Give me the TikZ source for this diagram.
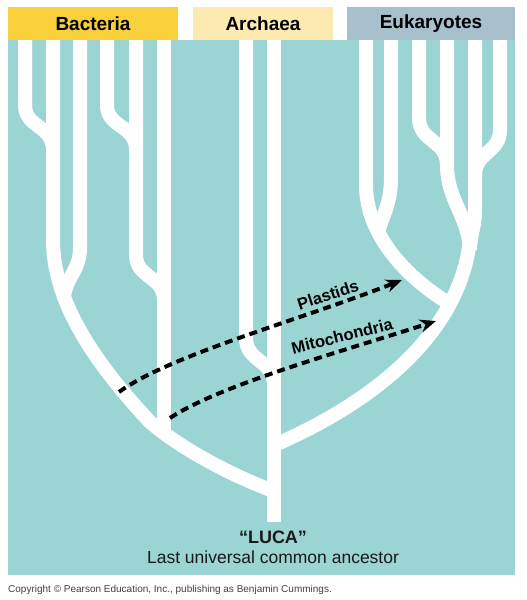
\documentclass[tikz,border=0pt]{standalone}
\usepackage{fontspec}
\setmainfont{Liberation Sans}
\usetikzlibrary{arrows.meta}
\definecolor{treeBg}{RGB}{155,213,211}
\definecolor{bactYellow}{RGB}{249,207,60}
\definecolor{archYellow}{RGB}{253,234,176}
\definecolor{eukGrey}{RGB}{168,191,204}

\begin{document}
\begin{tikzpicture}[x=1pt,y=-1pt,
                  domain/.style={minimum width=#1,minimum height=33pt,inner sep=0pt,font=\fontsize{19}{22}\selectfont\bfseries},
                  branch/.style={draw=white,line width=14pt},
                  transfer/.style={line width=4pt,dash pattern=on 8pt off 5pt,-{Stealth[length=16pt,width=13pt,inset=5pt]}},
                  tag/.style={inner sep=0pt,font=\fontsize{16.5}{18}\selectfont\bfseries}
                ]
                \fill[white] (0,0) rectangle (527,600);
                \useasboundingbox (0,0) rectangle (527,600);
                \fill[treeBg] (8,40) rectangle (515,575);

                \node[domain=170pt,fill=bactYellow] (bacteria) at (93,23.5) {Bacteria};
                \node[domain=140pt,fill=archYellow] (archaea) at (263,23.5) {Archaea};
                \node[domain=168pt,fill=eukGrey] (eukaryotes) at (431,23.5) {Eukaryotes};

                \draw[branch] (274,40) -- (274,522);
                \draw[branch] (53,40) -- (53,240) .. controls (53,300) and (92,360) .. (150,422) .. controls (180,448) and (230,475) .. (276,492);
                \draw[branch] (25,40) -- (25,105) .. controls (25,128) and (53,125) .. (53,150);
                \draw[branch] (80,40) -- (80,248) .. controls (80,272) and (64,278) .. (64,300);
                \draw[branch] (107,40) -- (107,105) .. controls (107,128) and (136,125) .. (136,150);
                \draw[branch] (136,40) -- (136,255) .. controls (136,278) and (164,276) .. (164,300);
                \draw[branch] (164,40) -- (164,434);

                \draw[branch] (246,40) -- (246,338) .. controls (246,362) and (274,360) .. (274,385);

                \draw[branch] (270,447) .. controls (380,400) and (460,330) .. (470,240);
                \draw[branch] (366,40) -- (366,185) .. controls (366,230) and (400,275) .. (455,307);
                \draw[branch] (391,40) -- (391,178) .. controls (391,203) and (383,215) .. (378,232);
                \draw[branch] (419,40) -- (419,118) .. controls (419,142) and (447,140) .. (447,165);
                \draw[branch] (447,40) -- (447,165) .. controls (447,200) and (468,215) .. (470,250);
                \draw[branch] (475,40) -- (475,210) .. controls (475,228) and (470,235) .. (470,250);
                \draw[branch] (500,40) -- (500,130) .. controls (500,153) and (475,152) .. (475,175);

                \coordinate (plastidsStart) at (119,392);
                \coordinate (plastidsEnd) at (402,280);
                \coordinate (mitoStart) at (170,418);
                \coordinate (mitoEnd) at (436,321);
                \draw[transfer] (plastidsStart) .. controls (170,355) and (300,320) .. (plastidsEnd);
                \draw[transfer] (mitoStart) .. controls (220,385) and (340,352) .. (mitoEnd);
                \node[tag,rotate=18] (plastids) at (328,295) {Plastids};
                \node[tag,rotate=14] (mito) at (342,336) {Mitochondria};

                \node[font=\fontsize{18}{20}\selectfont\bfseries,text=black!90] (luca) at (273,537) {“LUCA”};
                \node[font=\fontsize{17.5}{20}\selectfont,text=black!90] (lucaName) at (273,557.5) {Last universal common ancestor};
                \node[anchor=base west,inner sep=0pt,font=\fontsize{10}{12}\selectfont,text=black!75] (copyright) at (8,592) {Copyright © Pearson Education, Inc., publishing as Benjamin Cummings.};
                \end{tikzpicture}
\end{document}
